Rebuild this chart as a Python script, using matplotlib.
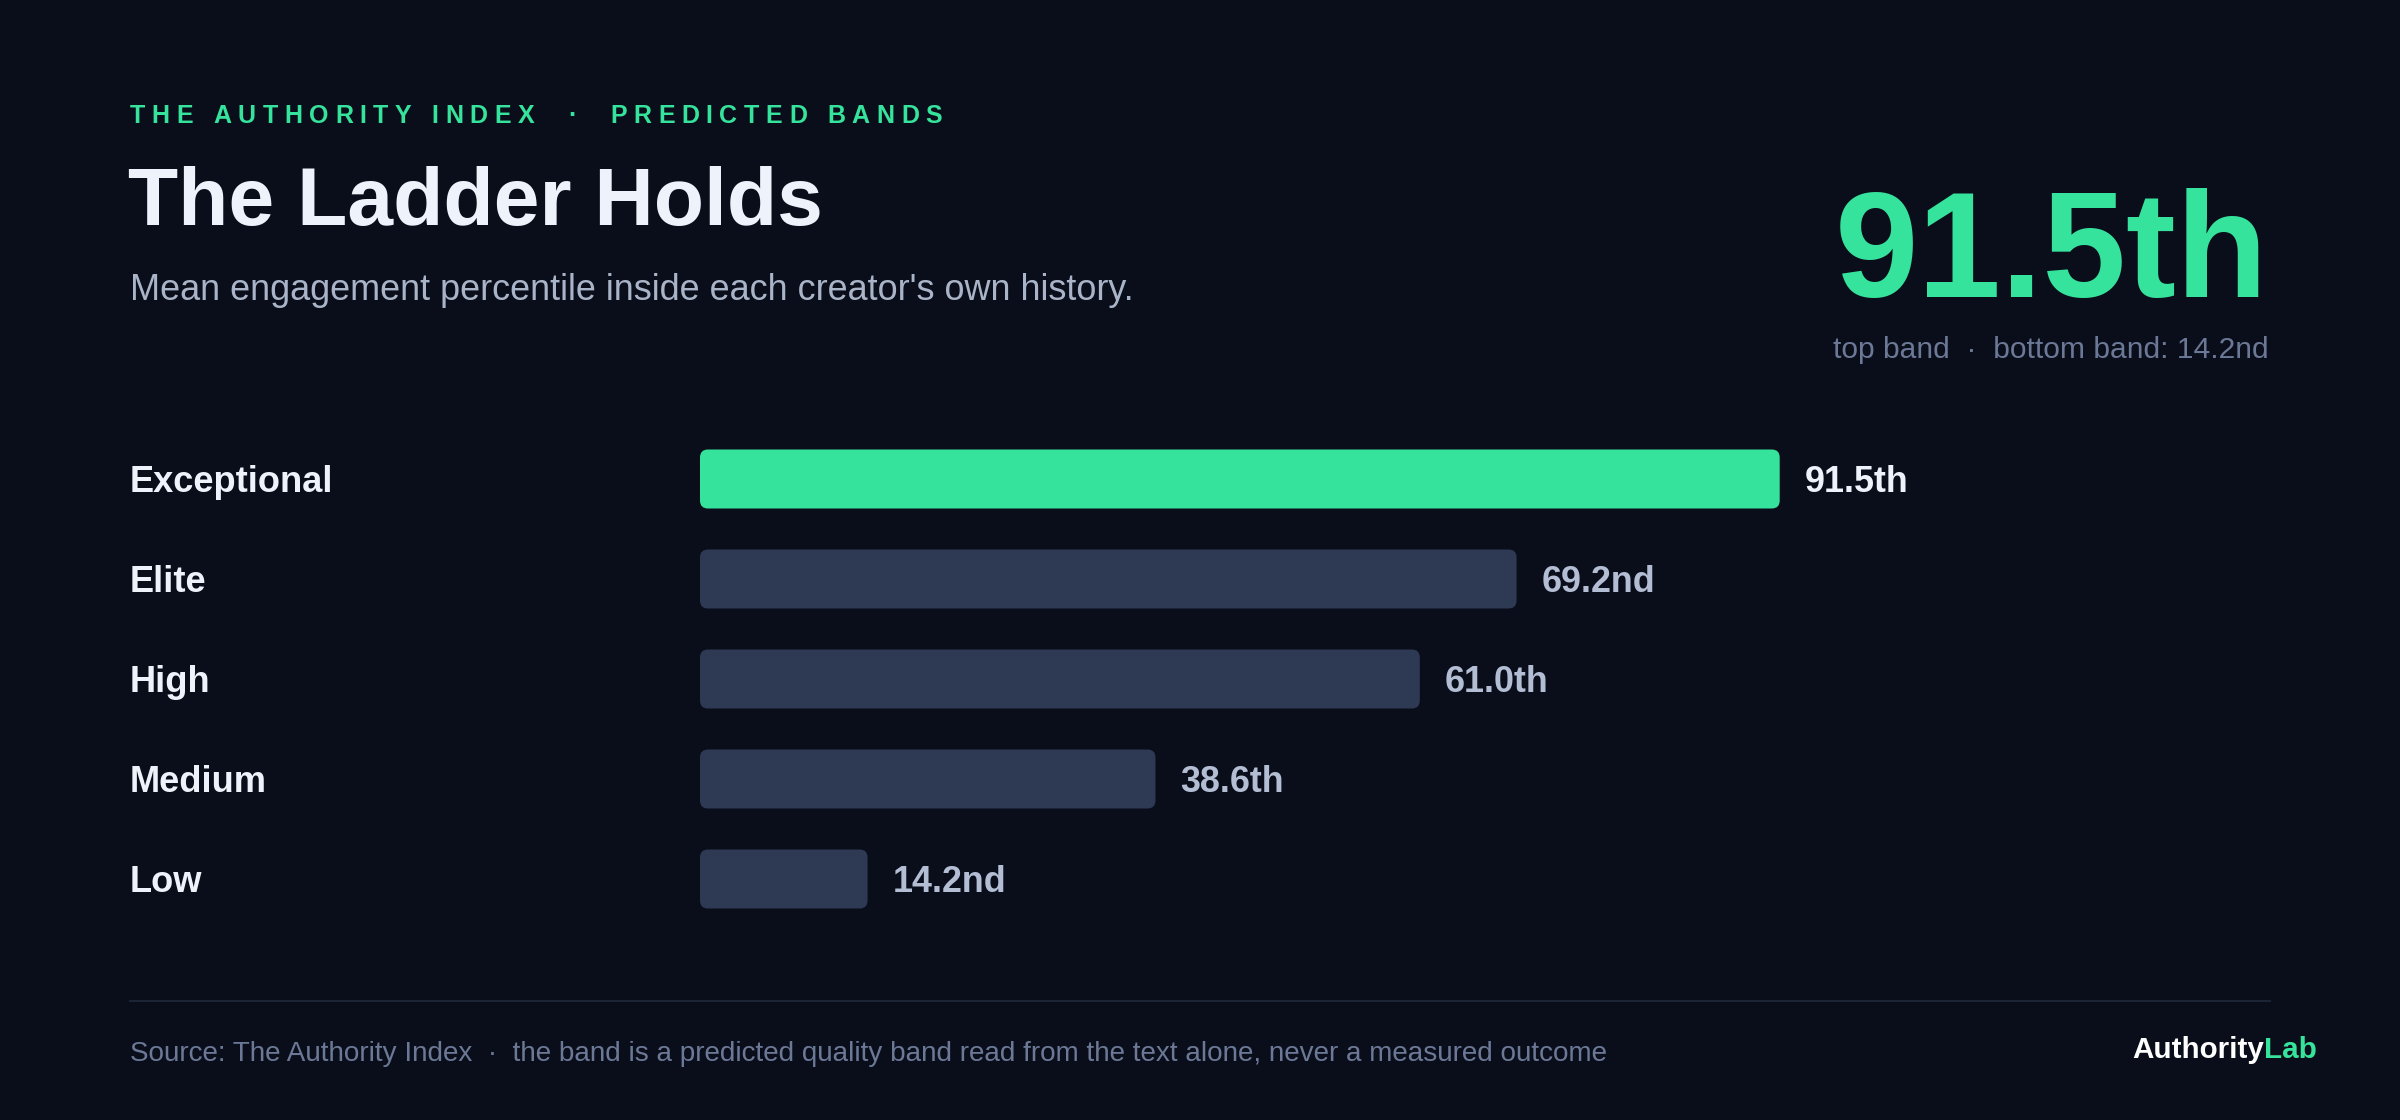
import matplotlib.pyplot as plt
from matplotlib.patches import FancyBboxPatch
from matplotlib.transforms import blended_transform_factory

# data
bands = ['Exceptional', 'Elite', 'High', 'Medium', 'Low']
percentiles = [91.5, 69.2, 61.0, 38.6, 14.2]
value_labels = ['91.5th', '69.2nd', '61.0th', '38.6th', '14.2nd']
top_label = '91.5th'
bottom_label = '14.2nd'

BG = '#0a0e1a'
GREEN = '#36e39c'
BAR_GREY = '#2e3954'
WHITE = '#eef2fa'
SOFT = '#a9b4c8'
MUTED = '#6b7896'
VAL_GREY = '#b3bed4'

W, H = 2400, 1120
plt.rcParams['font.family'] = ['Liberation Sans', 'DejaVu Sans']

fig = plt.figure(figsize=(W / 100, H / 100), dpi=100, facecolor=BG)


def fx(x):
    return x / W


def fy(y):
    return 1 - y / H


# header
renderer = fig.canvas.get_renderer()
kicker = 'THE AUTHORITY INDEX  \u00b7  PREDICTED BANDS'
x = 130
tracking = 6.6
for ch in kicker:
    t = fig.text(fx(x), fy(123), ch, color=GREEN, fontsize=18,
                 fontweight='bold', va='baseline', ha='left')
    w = t.get_window_extent(renderer).width
    if ch == ' ':
        w = 18 * 100 / 72 * 0.28
    x += w + tracking

fig.text(fx(128), fy(225), 'The Ladder Holds', color=WHITE, fontsize=59.2,
         fontweight='bold', va='baseline')
fig.text(fx(130), fy(300), "Mean engagement percentile inside each creator's own history.",
         color=SOFT, fontsize=25.9, va='baseline')

fig.text(fx(2268), fy(297), top_label, color=GREEN, fontsize=108,
         fontweight='bold', va='baseline', ha='right')
fig.text(fx(2269), fy(358), 'top band  \u00b7  bottom band: ' + bottom_label,
         color=MUTED, fontsize=21.6, va='baseline', ha='right')

# bars
ax = fig.add_axes([fx(700), fy(929), 1180 / W, 500 / H])
ax.set_facecolor(BG)
ax.set_xlim(0, 100)
ax.set_ylim(len(bands) - 0.5, -0.5)
ax.axis('off')

bar_h = 0.59
px_x = 1180 / 100   # pixels per x unit
px_y = 100          # pixels per y unit
radius = 8 / px_x
bars = ax.barh(range(len(bands)), percentiles, height=bar_h)
for i, b in enumerate(bars):
    b.set_visible(False)
    patch = FancyBboxPatch((b.get_x(), b.get_y()), b.get_width(), b.get_height(),
                           boxstyle=f'round,pad=0,rounding_size={radius}',
                           mutation_aspect=px_x / px_y,
                           facecolor=GREEN if i == 0 else BAR_GREY,
                           edgecolor='none')
    ax.add_patch(patch)

lab_tr = blended_transform_factory(fig.transFigure, ax.transData)
for i, (name, v, lab) in enumerate(zip(bands, percentiles, value_labels)):
    ax.text(fx(130), i + 0.13, name, transform=lab_tr, color=WHITE,
            fontsize=26.1, fontweight='bold', va='baseline', ha='left')
    ax.text(v + 25 / px_x, i + 0.13, lab, color=WHITE if i == 0 else VAL_GREY,
            fontsize=25.8, fontweight='bold', va='baseline', ha='left')

# footer
fig.add_artist(plt.Line2D([fx(130), fx(2270)], [fy(1001), fy(1001)],
                          color='#1c2436', linewidth=1.5))
fig.text(fx(130), fy(1061),
         'Source: The Authority Index  \u00b7  the band is a predicted quality band '
         'read from the text alone, never a measured outcome',
         color=MUTED, fontsize=20.1, va='baseline')
lab_txt = fig.text(fx(2317), fy(1058), 'Lab', color=GREEN, fontsize=21.3,
                   fontweight='bold', va='baseline', ha='right')
lw = lab_txt.get_window_extent(renderer).width
fig.text(fx(2317 - lw), fy(1058), 'Authority', color='#ffffff', fontsize=21.3,
         fontweight='bold', va='baseline', ha='right')

fig.savefig('out.png', dpi=100, facecolor=BG)
